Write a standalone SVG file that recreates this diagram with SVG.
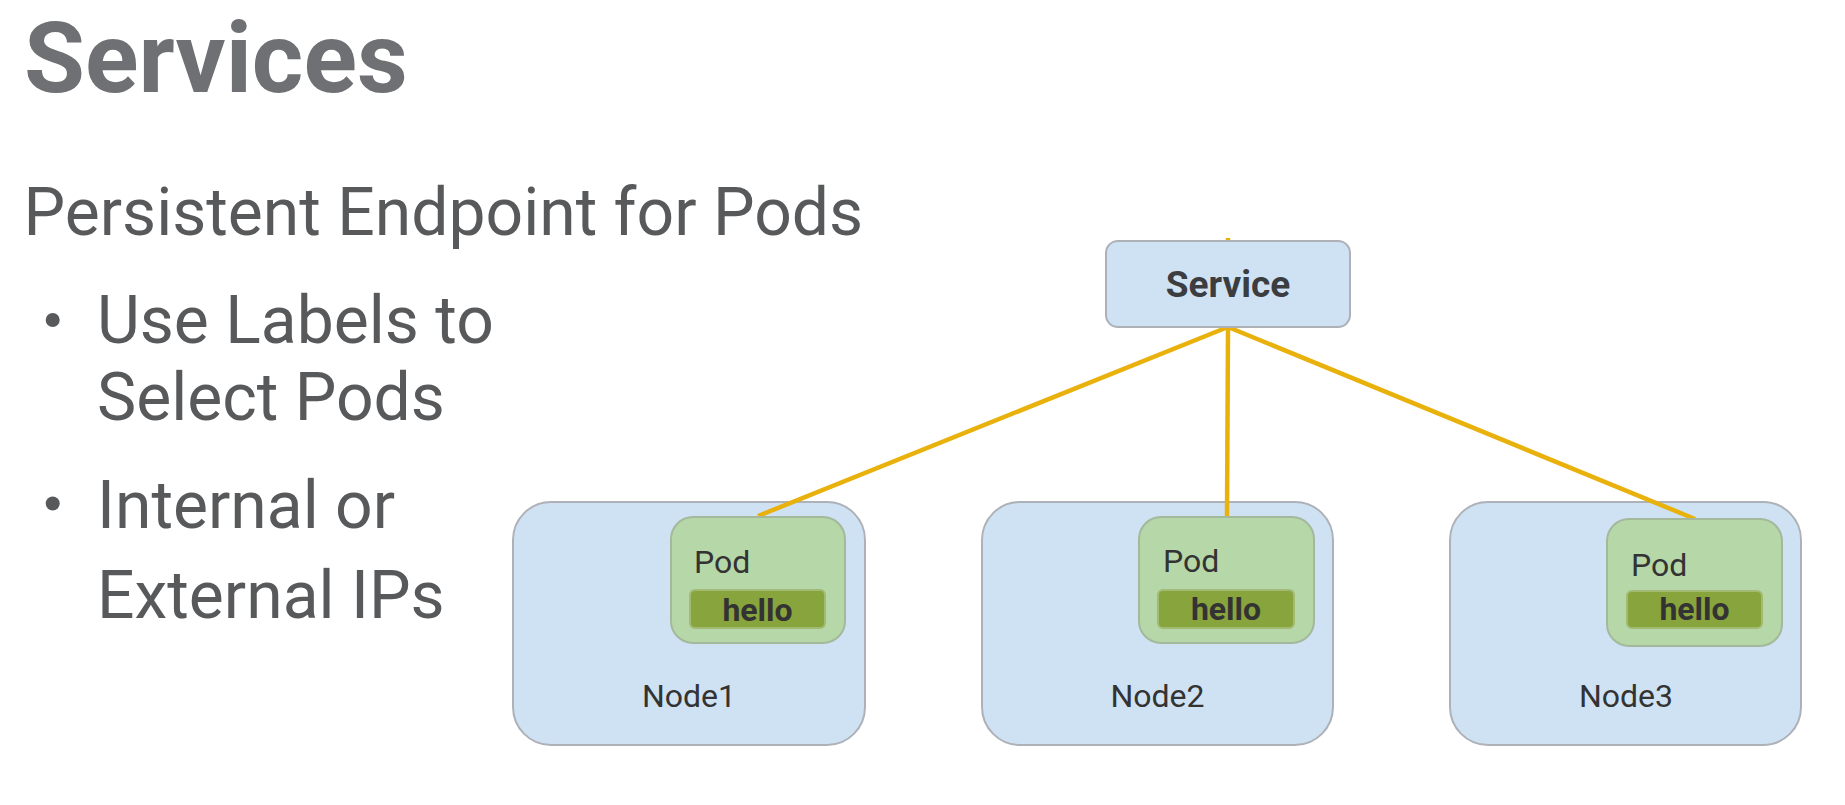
<svg xmlns="http://www.w3.org/2000/svg" width="1845" height="805" viewBox="0 0 1845 805">
<style>
  text { font-family: Roboto, "Liberation Sans", sans-serif; }
  .title { font-size: 99px; font-weight: bold; fill: #6e7073; }
  .body { font-size: 66px; fill: #58595b; }
  .bullet { fill: #58595b; }
  .node { fill: #cfe2f3; stroke: #aeb2b8; stroke-width: 2; }
  .pod { fill: #b6d7a8; stroke: #a4b89c; stroke-width: 2; }
  .label { fill: #88a43c; stroke: #a2ba74; stroke-width: 2; }
  .svc { fill: #cfe2f3; stroke: #aeb2b8; stroke-width: 2; }
  .svctext { font-size: 37px; font-weight: bold; fill: #3c3d40; text-anchor: middle; }
  .podtext { font-size: 32px; fill: #333333; }
  .hello { font-size: 32px; font-weight: bold; fill: #333333; text-anchor: middle; }
  .nodetext { font-size: 32px; fill: #333333; text-anchor: middle; }
  .conn { stroke: #e9b10c; stroke-width: 4.5; fill: none; stroke-linecap: butt; }
</style>
<rect width="1845" height="805" fill="#ffffff"/>

<g id="heading">
  <text class="title" x="24" y="92">Services</text>
  <text class="body" x="23.5" y="235">Persistent Endpoint for Pods</text>
  <circle class="bullet" cx="52.7" cy="320" r="7"/>
  <text class="body" x="97" y="343">Use Labels to</text>
  <text class="body" x="97" y="420">Select Pods</text>
  <circle class="bullet" cx="52.7" cy="503.5" r="7"/>
  <text class="body" x="97" y="528">Internal or</text>
  <text class="body" x="97" y="618">External IPs</text>
</g>

<g id="node1">
  <rect class="node" x="513" y="502" width="352" height="243" rx="38"/>
  <text class="nodetext" x="689" y="707">Node1</text>
</g>
<g id="node2">
  <rect class="node" x="982" y="502" width="351" height="243" rx="38"/>
  <text class="nodetext" x="1157.5" y="707">Node2</text>
</g>
<g id="node3">
  <rect class="node" x="1450" y="502" width="351" height="243" rx="38"/>
  <text class="nodetext" x="1626" y="707">Node3</text>
</g>

<g id="connectors">
  <line class="conn" x1="1228" y1="238" x2="1228" y2="241" stroke-width="3"/>
  <line class="conn" x1="1228" y1="327" x2="758" y2="516"/>
  <line class="conn" x1="1228" y1="327" x2="1227" y2="516"/>
  <line class="conn" x1="1228" y1="327" x2="1695" y2="519"/>
</g>

<g id="service">
  <rect class="svc" x="1106" y="241" width="244" height="86" rx="12"/>
  <text class="svctext" x="1228" y="297">Service</text>
</g>

<g id="pod1">
  <rect class="pod" x="671" y="517" width="174" height="126" rx="22"/>
  <text class="podtext" x="694" y="573">Pod</text>
  <rect class="label" x="690" y="590" width="135" height="38" rx="5"/>
  <text class="hello" x="757.5" y="621">hello</text>
</g>
<g id="pod2">
  <rect class="pod" x="1139" y="517" width="175" height="126" rx="22"/>
  <text class="podtext" x="1163" y="572">Pod</text>
  <rect class="label" x="1158" y="590" width="136" height="38" rx="5"/>
  <text class="hello" x="1226" y="620">hello</text>
</g>
<g id="pod3">
  <rect class="pod" x="1607" y="519" width="175" height="127" rx="22"/>
  <text class="podtext" x="1631" y="576">Pod</text>
  <rect class="label" x="1627" y="591" width="135" height="37" rx="5"/>
  <text class="hello" x="1694.5" y="619.5">hello</text>
</g>
</svg>
